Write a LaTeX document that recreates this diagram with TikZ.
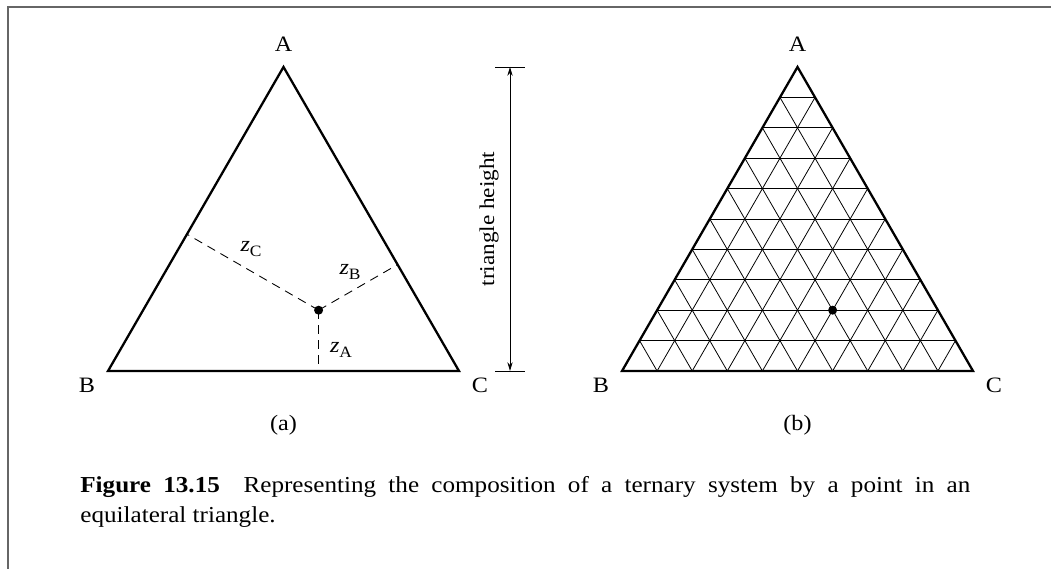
\documentclass[tikz,border=0pt]{standalone}
\usepackage{fontspec}
\setmainfont[FakeStretch=1.1]{Liberation Serif}
\usetikzlibrary{calc,arrows.meta}

\newcommand{\zsub}[1]{\textit{z}\raisebox{-0.5ex}{\small #1}}

\begin{document}
\begin{tikzpicture}[
  font=\fontsize{12.5}{15}\selectfont,
  tri/.style={line width=1.3pt, line join=miter},
  perp/.style={dashed, dash pattern=on 5pt off 3.5pt, line width=0.5pt},
  gridline/.style={line width=0.45pt},
  dimline/.style={line width=0.5pt, {Stealth[length=5pt,width=3pt]}-{Stealth[length=5pt,width=3pt]}},
  tick/.style={line width=0.5pt},
  dot/.style={circle, fill=black, inner sep=0pt, minimum size=1.8mm}
]
  \useasboundingbox (0,0) rectangle (21.02,11.38);

  % Marco de la figura
  \draw[black!60, line width=0.8pt] (0.16,0) -- (0.16,11.24) -- (21.02,11.24);

  % (a) triangulo con distancias
  \coordinate (aB) at (2.16,3.96);
  \coordinate (aC) at (9.18,3.96);
  \coordinate (aA) at (5.67,10.04);
  \coordinate (aP) at (barycentric cs:aA=0.2,aB=0.3,aC=0.5);
  \coordinate (fA) at ($(aB)!(aP)!(aC)$);
  \coordinate (fB) at ($(aA)!(aP)!(aC)$);
  \coordinate (fC) at ($(aA)!(aP)!(aB)$);

  \draw[perp] (aP) -- (fA);
  \draw[perp] (aP) -- (fB);
  \draw[perp] (aP) -- (fC);
  \draw[tri] (aA) -- (aB) -- (aC) -- cycle;
  \node[dot] (pa) at (aP) {};

  \node (labA) at ($(aA)+(0,0.45)$) {A};
  \node (labB) at ($(aB)+(-0.42,-0.28)$) {B};
  \node (labC) at ($(aC)+(0.42,-0.28)$) {C};
  \node (zc) at (5.02,6.4) {\zsub{C}};
  \node (zb) at (7.0,5.94) {\zsub{B}};
  \node (za) at (6.82,4.38) {\zsub{A}};
  \node (capa) at (5.67,2.88) {(a)};

  % Cota de la altura
  \coordinate (ht) at (10.2,10.04);
  \coordinate (hb) at (10.2,3.96);
  \draw[tick] (9.9,10.04) -- (10.5,10.04);
  \draw[tick] (9.9,3.96) -- (10.5,3.96);
  \draw[dimline] (ht) -- (hb);
  \node[rotate=90, font=\fontsize{12}{14}\selectfont] (hlab) at (9.78,7.0) {triangle height};

  % (b) triangulo con malla
  \coordinate (bB) at (12.44,3.96);
  \coordinate (bC) at (19.46,3.96);
  \coordinate (bA) at (15.95,10.04);
  \foreach \i in {1,...,9} {
    \draw[gridline] ($(bB)!\i/10!(bA)$) -- ($(bC)!\i/10!(bA)$);
    \draw[gridline] ($(bB)!\i/10!(bC)$) -- ($(bA)!\i/10!(bC)$);
    \draw[gridline] ($(bC)!\i/10!(bB)$) -- ($(bA)!\i/10!(bB)$);
  }
  \draw[tri] (bA) -- (bB) -- (bC) -- cycle;
  \node[dot] (pb) at (barycentric cs:bA=0.2,bB=0.3,bC=0.5) {};

  \node (labbA) at ($(bA)+(0,0.45)$) {A};
  \node (labbB) at ($(bB)+(-0.42,-0.28)$) {B};
  \node (labbC) at ($(bC)+(0.42,-0.28)$) {C};
  \node (capb) at (15.95,2.88) {(b)};

  % Leyenda
  \node[anchor=north west, inner sep=0pt, text width=17.8cm, align=justify,
        font=\fontsize{13}{17}\selectfont] (caption) at (1.6,1.86)
    {\textbf{Figure 13.15}\hspace{0.5em} Representing the composition of a ternary system by a point in an\linebreak equilateral triangle.};
\end{tikzpicture}
\end{document}
